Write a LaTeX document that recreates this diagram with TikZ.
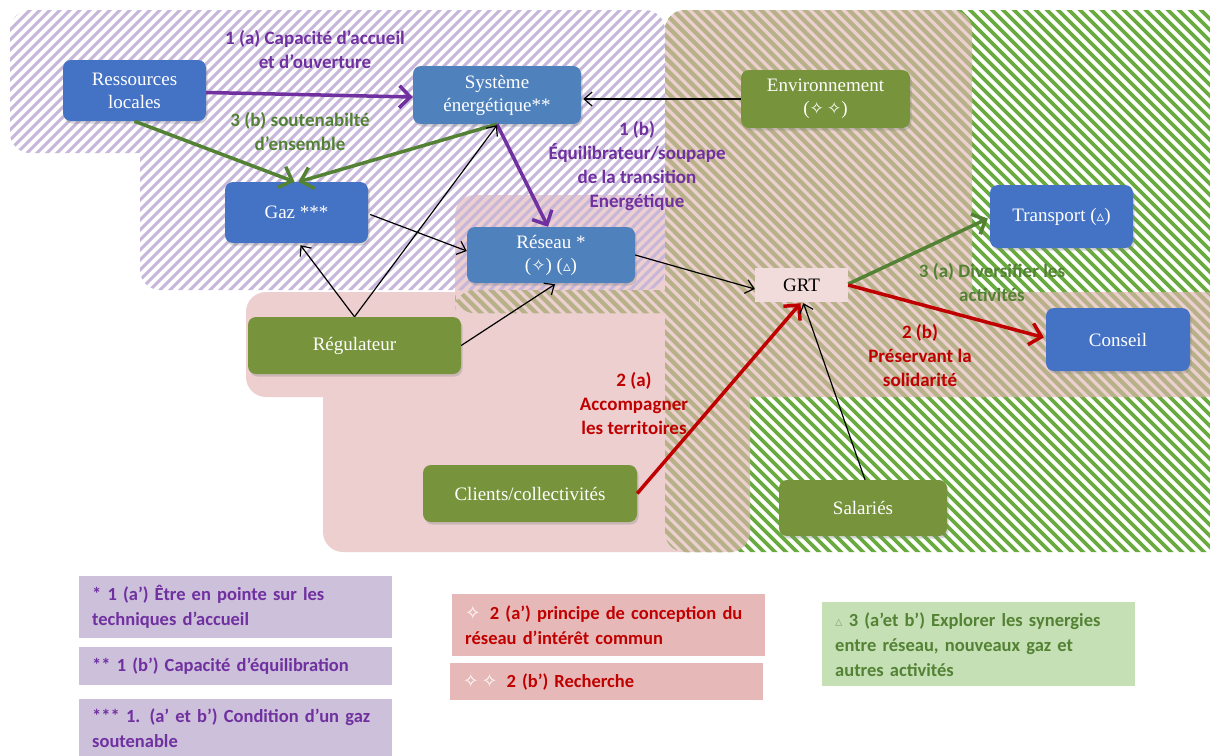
\documentclass[tikz,border=0pt]{standalone}
\usepackage{fontspec}
\setmainfont{Liberation Serif}
\newfontfamily\calibri{Carlito}
\newfontfamily\dvsym{DejaVu Sans}
\usetikzlibrary{arrows.meta,calc,shadows}
\definecolor{blueA}{HTML}{4472C4}
\definecolor{blueB}{HTML}{4F81BD}
\definecolor{greenN}{HTML}{77933C}
\definecolor{purpleT}{HTML}{7030A0}
\definecolor{greenT}{HTML}{548235}
\definecolor{redT}{HTML}{C00000}
\definecolor{pinkBg}{HTML}{EDCFCF}
\definecolor{grtFill}{HTML}{F2DCDB}
\definecolor{lavStripe}{HTML}{C6B6DA}
\definecolor{greenStripe}{HTML}{6AAB3F}
\definecolor{tanStripe}{HTML}{B8B089}
\definecolor{legP}{HTML}{CCC0DA}
\definecolor{legR}{HTML}{E6B9B8}
\definecolor{legG}{HTML}{C5E0B4}
\newcommand\starsym{{\dvsym\scalebox{0.9}{✧}}}
\newcommand\trisym{{\dvsym\scalebox{0.8}{▵}}}
\newcommand\nohy{\hyphenpenalty 10000 \exhyphenpenalty 10000 }
\tikzset{
  box/.style={rounded corners=8pt, text=white, align=center, inner sep=2pt,
    font=\fontsize{19}{23}\selectfont,
    drop shadow={shadow xshift=1.5pt, shadow yshift=-2.5pt, opacity=0.3}},
  bluebox/.style={box, fill=blueA},
  blueboxB/.style={box, fill=blueB},
  greenbox/.style={box, fill=greenN},
  lab/.style={font=\calibri\bfseries\fontsize{19}{24}\selectfont, align=center, inner sep=0pt},
  leg/.style={font={\calibri\bfseries\fontsize{18.5}{25}\selectfont\nohy}, align=left,
    anchor=north west, inner xsep=13pt, inner ysep=0pt, text width=287pt},
  thinarrow/.style={draw=black, line width=1.2pt, -{Straight Barb[length=8pt,width=14pt]}},
  thickarrow/.style={line width=3.5pt, -{Straight Barb[length=11pt,width=22pt]}},
}
\begin{document}
\begin{tikzpicture}[x=1pt,y=-1pt]
\clip (0,0) rectangle (1210,755);
\fill[white] (0,0) rectangle (1210,755);
% pink region
\fill[pinkBg, rounded corners=20pt]
  (246,292) rectangle (760,397)
  (323,292) rectangle (750,552)
  (455,195) rectangle (700,320)
  (665,10) rectangle (972,397)
  (665,292) rectangle (1240,397);
% green hatched region
\begin{scope}
  \clip[rounded corners=20pt] (665,10) rectangle (1240,552)
     (455,290) rectangle (700,313);
  \draw[greenStripe, line width=3.6pt]
    \foreach \t in {-800,-789,...,1230} {(\t,0) -- ++(800,800)};
  \clip[rounded corners=20pt]
    (246,292) rectangle (760,397)
    (323,292) rectangle (750,552)
    (455,195) rectangle (700,320)
    (665,10) rectangle (972,397)
    (665,292) rectangle (1240,397);
  \draw[tanStripe, line width=3.6pt]
    \foreach \t in {-800,-789,...,1230} {(\t,0) -- ++(800,800)};
\end{scope}
% purple hatched region
\begin{scope}
  \clip[rounded corners=20pt] (10,10) rectangle (665,153)
     (140,40) rectangle (665,290);
  \draw[lavStripe, line width=3pt]
    \foreach \t in {-800,-790,...,700} {(\t,800) -- ++(800,-800)};
\end{scope}

% nodes
\node[bluebox, minimum width=143pt, minimum height=61pt] (res) at (134.5,90.5) {Ressources\\locales};
\node[blueboxB, minimum width=168pt, minimum height=58pt] (sys) at (497,95) {Système\\énergétique**};
\node[greenbox, minimum width=169pt, minimum height=58pt] (env) at (825.5,99) {Environnement\\(\starsym\,\starsym)};
\node[bluebox, minimum width=143pt, minimum height=61pt] (gaz) at (296.5,212.5) {Gaz ***};
\node[blueboxB, minimum width=168pt, minimum height=56pt] (net) at (551,255) {Réseau *\\(\starsym) (\trisym)};
\node[fill=grtFill, minimum width=93pt, minimum height=34pt, inner sep=0pt, font=\fontsize{19}{21}\selectfont] (grt) at (801.5,285) {GRT};
\node[bluebox, minimum width=143pt, minimum height=63pt] (tra) at (1061.5,216.5) {Transport (\trisym)};
\node[bluebox, minimum width=144pt, minimum height=63pt] (con) at (1118,339.5) {Conseil};
\node[greenbox, minimum width=213pt, minimum height=57pt] (reg) at (354.5,345.5) {Régulateur};
\node[greenbox, minimum width=214pt, minimum height=57pt] (cli) at (530,493.5) {Clients/collectivités};
\node[greenbox, minimum width=168pt, minimum height=56pt] (sal) at (863,508) {Salariés};

% connectors
\draw[thickarrow, purpleT] ($(res.east)+(0,2)$) -- ($(sys.west)+(0,2)$);
\draw[thickarrow, greenT] (res.south) -- ($(gaz.north)+(-2,0)$);
\draw[thickarrow, greenT] (sys.south) -- ($(gaz.north)+(2,0)$);
\draw[thickarrow, purpleT] (sys.south) -- ($(net.north)+(-3,0)$);
\draw[thinarrow] (env.west) -- ($(env.west -| sys.east)+(2,0)$);
\draw[thinarrow] ($(gaz.east)+(2,2)$) -- ($(net.west)+(0,-4)$);
\draw[thinarrow] (reg.north) -- ($(gaz.south)+(4,2)$);
\draw[thinarrow] (reg.north) -- ($(sys.south)+(0,1)$);
\draw[thinarrow] (reg.east) -- ($(net.south)+(4,1)$);
\draw[thinarrow] (net.east) -- ($(grt.west)+(0,4)$);
\draw[thickarrow, greenT] ($(grt.east)+(0,-1)$) -- ($(tra.west)+(-2,2)$);
\draw[thickarrow, redT] (grt.east) -- ($(con.west)+(-2,-2)$);
\draw[thickarrow, redT] (cli.east) -- ($(grt.south)+(-1,1)$);
\draw[thinarrow] ($(sal.north)+(2,0)$) -- ($(grt.south)+(2,1)$);

% labels
\node[lab, text=purpleT] (l1a) at (315,50) {1 (a) Capacité d’accueil\\et d’ouverture};
\node[lab, text=greenT] (l3b) at (300,132) {3 (b) soutenabilté\\d’ensemble};
\node[lab, text=purpleT] (l1b) at (637,166) {1 (b)\\Équilibrateur/soupape\\de la transition\\Energétique};
\node[lab, text=greenT] (l3a) at (992,283) {3 (a) Diversifier les\\activités};
\node[lab, text=redT] (l2b) at (920,356) {2 (b)\\Préservant la\\solidarité};
\node[lab, text=redT] (l2a) at (634,404) {2 (a)\\Accompagner\\les territoires};

% legend
\node[leg, fill=legP, text=purpleT, minimum height=62pt] (k1) at (79,576) {* 1 (a’) Être en pointe sur les\\techniques d’accueil};
\node[leg, fill=legP, text=purpleT, minimum height=38pt] (k2) at (79,647) {** 1 (b’) Capacité d’équilibration};
\node[leg, fill=legP, text=purpleT, minimum height=58pt] (k3) at (79,699) {*** 1. (a’ et b’) Condition d’un gaz\\soutenable};
\node[leg, fill=legR, text=redT, minimum height=62pt] (k4) at (452,594) {{\color{white}\dvsym ✧}\, 2 (a’) principe de conception du\\réseau d’intérêt commun};
\node[leg, fill=legR, text=redT, minimum height=37pt] (k5) at (450,663) {{\color{white}\dvsym ✧\,✧}\, 2 (b’) Recherche};
\node[leg, fill=legG, text=greenT, minimum height=84pt] (k6) at (822,602) {{\color{greenT!60}\trisym} 3 (a’et b’) Explorer les synergies\\entre réseau, nouveaux gaz et\\autres activités};
\end{tikzpicture}
\end{document}
